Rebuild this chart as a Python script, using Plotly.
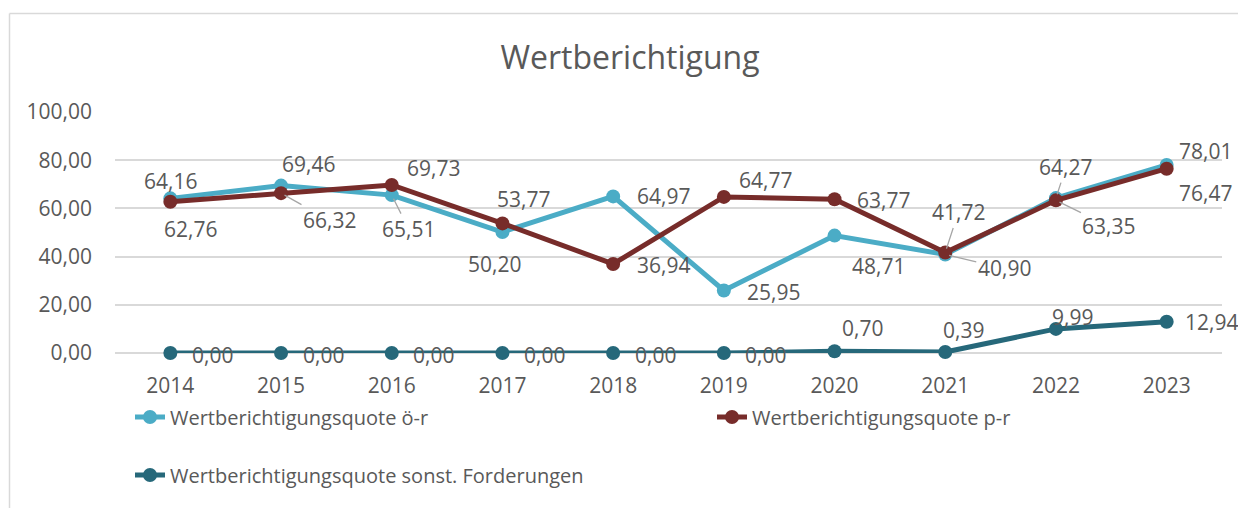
import plotly.graph_objects as go

years = ["2014", "2015", "2016", "2017", "2018", "2019", "2020", "2021", "2022", "2023"]
quote_oer = [64.16, 69.46, 65.51, 50.20, 64.97, 25.95, 48.71, 40.90, 64.27, 78.01]
quote_pr = [62.76, 66.32, 69.73, 53.77, 36.94, 64.77, 63.77, 41.72, 63.35, 76.47]
quote_sonst = [0.00, 0.00, 0.00, 0.00, 0.00, 0.00, 0.70, 0.39, 9.99, 12.94]
names = ["Wertberichtigungsquote ö-r", "Wertberichtigungsquote p-r",
         "Wertberichtigungsquote sonst. Forderungen"]
title_text = "Wertberichtigung"

# label placement (pixel offsets dx, dy (down positive), leader line flag)
off_oer = [(0, -17, 0), (27, -22, 0), (17, 34, 1), (-8, 32, 0), (50, 0, 0),
           (50, 2, 0), (44, 30, 0), (59, 14, 1), (10, -31, 1), (39, -14, 0)]
off_pr = [(20, 27, 0), (48, 27, 1), (42, -17, 0), (21, -24, 0), (50, 1, 0),
          (42, -17, 0), (49, 1, 0), (13, -40, 1), (53, 26, 1), (39, 24, 0)]
off_sonst = [(42, 2, 0)] * 6 + [(28, -23, 0), (18, -22, 0), (17, -12, 0), (45, 0, 0)]

colors = ["#4BACC6", "#772C2A", "#26687A"]
txt = "#595959"
FONT = "Open Sans"

# the page body adds an 8px offset; work in reference-window pixels
OFF = 8
W, H = 1246 - OFF, 508 - OFF
L, R, T, B = 115 - OFF, 24, 112 - OFF, 155
PH = H - T - B
PW = W - L - R


def px(xp):
    return (xp - OFF - L) / PW


def py(yp):
    return (H - B - (yp - OFF)) / PH


def fmt(v):
    return f"{v:.2f}".replace(".", ",")


fig = go.Figure()
series = [quote_oer, quote_pr, quote_sonst]
offs = [off_oer, off_pr, off_sonst]
legends = ["legend", "legend2", "legend3"]
for vals, name, col, lg in zip(series, names, colors, legends):
    fig.add_trace(go.Scatter(
        x=years, y=vals, name=name, mode="lines+markers",
        line=dict(color=col, width=5), marker=dict(color=col, size=14),
        cliponaxis=False, legend=lg, hoverinfo="x+y+name"))

LBL = 21
anns = []
for vals, off in zip(series, offs):
    for i, (v, (dx, dy, lead)) in enumerate(zip(vals, off)):
        if lead:
            anns.append(dict(x=i, y=v, xref="x", yref="y", text=fmt(v),
                             showarrow=True, arrowhead=0, arrowwidth=1.3,
                             arrowcolor="#A6A6A6", ax=dx, ay=dy, standoff=4,
                             font=dict(family=FONT, size=LBL, color=txt)))
        else:
            anns.append(dict(x=i, y=v, xref="x", yref="y", text=fmt(v),
                             showarrow=False, xshift=dx, yshift=-dy,
                             font=dict(family=FONT, size=LBL, color=txt)))

shapes = [
    dict(type="line", xref="paper", yref="paper", x0=px(9.5), x1=px(1260),
         y0=py(13.5), y1=py(13.5), line=dict(color="#D9D9D9", width=1.5)),
    dict(type="line", xref="paper", yref="paper", x0=px(9.5), x1=px(9.5),
         y0=py(13.5), y1=py(520), line=dict(color="#D9D9D9", width=1.5)),
]

leg_common = dict(orientation="h", xanchor="left", yanchor="middle",
                  bgcolor="rgba(0,0,0,0)",
                  font=dict(family=FONT, size=20, color=txt))

fig.update_layout(
    width=W, height=H,
    margin=dict(l=L, r=R, t=T, b=B),
    paper_bgcolor="white", plot_bgcolor="white",
    separators=",.",
    font=dict(family=FONT, size=20, color=txt),
    title=dict(text=title_text, xref="container", yref="container",
               x=(630 - OFF) / W, y=1 - (58 - OFF) / H, xanchor="center",
               yanchor="middle",
               font=dict(family=FONT, size=32, color=txt)),
    xaxis=dict(type="category", range=[-0.5, len(years) - 0.5],
               showgrid=False, showline=False, zeroline=False,
               ticks="", ticklabelstandoff=18,
               tickfont=dict(family=FONT, size=21, color=txt)),
    yaxis=dict(range=[0, 100], dtick=20, tickformat=".2f", showgrid=True,
               gridcolor="#D9D9D9", gridwidth=1.5, zeroline=True,
               zerolinecolor="#D9D9D9", zerolinewidth=1.5, showline=False,
               ticks="", ticklabelstandoff=22,
               tickfont=dict(family=FONT, size=21, color=txt)),
    legend=dict(x=px(130), y=py(417), **leg_common),
    legend2=dict(x=px(712), y=py(417), **leg_common),
    legend3=dict(x=px(130), y=py(475), **leg_common),
    annotations=anns,
    shapes=shapes,
    showlegend=True,
)

fig.write_html("out.html")
